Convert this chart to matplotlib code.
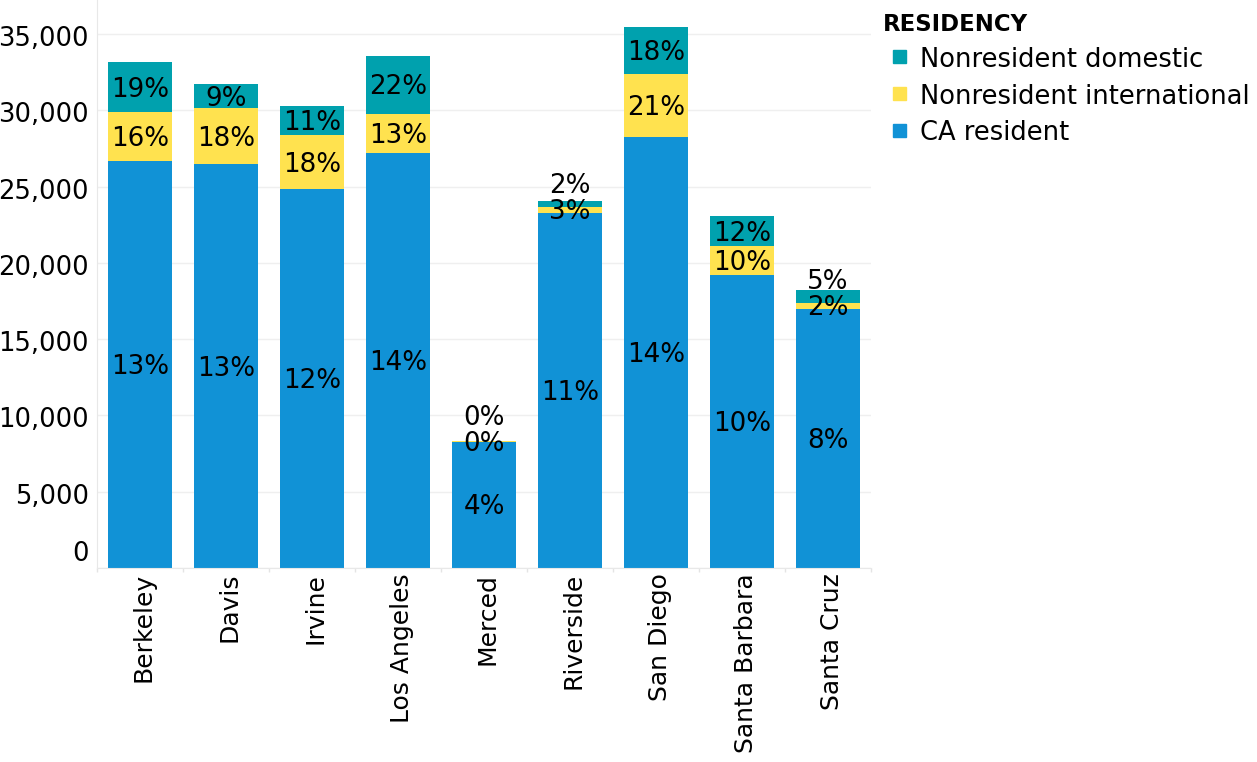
import matplotlib
matplotlib.use("Agg")
import matplotlib.pyplot as plt
from matplotlib.transforms import ScaledTranslation, blended_transform_factory
from matplotlib.patches import Rectangle
import numpy as np

plt.rcParams['font.family'] = ['DejaVu Sans']

campuses = ["Berkeley", "Davis", "Irvine", "Los Angeles", "Merced",
            "Riverside", "San Diego", "Santa Barbara", "Santa Cruz"]
ca_resident = [26670, 26470, 24840, 27200, 8270, 23280, 28240, 19200, 16990]
nonres_intl = [3210, 3670, 3540, 2560, 30, 390, 4130, 1900, 390]
nonres_dom = [3280, 1570, 1900, 3800, 30, 380, 3080, 1970, 840]
pct_ca = ["13%", "13%", "12%", "14%", "4%", "11%", "14%", "10%", "8%"]
pct_intl = ["16%", "18%", "18%", "13%", "0%", "3%", "21%", "10%", "2%"]
pct_dom = ["19%", "9%", "11%", "22%", "0%", "2%", "18%", "12%", "5%"]
series_names = ["Nonresident domestic", "Nonresident international", "CA resident"]
yticks = [0, 5000, 10000, 15000, 20000, 25000, 30000, 35000]

C_BLUE = "#1192d6"
C_YEL = "#ffe24f"
C_TEAL = "#00a1ae"

W, H = 1257, 762
fig = plt.figure(figsize=(W / 100, H / 100), dpi=100)
ax = fig.add_axes([97 / W, (H - 568) / H, (871 - 97) / W, 568 / H])
ax.set_xlim(-0.5, len(campuses) - 0.5)
ax.set_ylim(0, 37230)

x = np.arange(len(campuses))
ca = np.array(ca_resident, float)
it = np.array(nonres_intl, float)
do = np.array(nonres_dom, float)
bw = 0.755
ax.bar(x, ca, bw, color=C_BLUE, zorder=2)
ax.bar(x, it, bw, bottom=ca, color=C_YEL, zorder=2)
ax.bar(x, do, bw, bottom=ca + it, color=C_TEAL, zorder=2)

# grid & spines
ax.set_yticks(yticks)
ax.yaxis.grid(True, color="#efefef", linewidth=1, zorder=0)
ax.set_axisbelow(True)
ax.tick_params(axis='y', length=0, labelleft=False)
ax.set_xticks(x)
ax.tick_params(axis='x', which='major', length=0, labelbottom=False)
ax.set_xticks(np.arange(len(campuses) + 1) - 0.5, minor=True)
ax.tick_params(axis='x', which='minor', length=3, color="#e4e4e4", width=1)
for s in ["top", "right"]:
    ax.spines[s].set_visible(False)
ax.spines["left"].set_color("#e8e8e8")
ax.spines["bottom"].set_color("#e8e8e8")

# y tick labels
fs_tick = 18.6
ylab_tr = blended_transform_factory(ax.transAxes, ax.transData)
for v in yticks:
    dy = -12 if v != 0 else 7
    tr = ylab_tr + ScaledTranslation(-8 / 100, dy / 100, fig.dpi_scale_trans)
    ax.text(0, v, f"{v:,}", transform=tr, ha="right", va="baseline",
            fontsize=fs_tick, color="black", clip_on=False)

# category labels
xlab_tr = blended_transform_factory(ax.transData, ax.transAxes)
for i, name in enumerate(campuses):
    tr = xlab_tr + ScaledTranslation(10.8 / 100, -5 / 100, fig.dpi_scale_trans)
    ax.text(i, 0, name, transform=tr, rotation=90, rotation_mode="anchor",
            ha="right", va="baseline", fontsize=18, color="black", clip_on=False)

# percent labels
fs_pct = 18.8
units_per_px = (37230) / 568.0
gap = 26 * units_per_px
cap_off = -0.729 * fs_pct / 2 / 72
for i in range(len(campuses)):
    prev = -1e9
    bottoms = [0, ca[i], ca[i] + it[i]]
    heights = [ca[i], it[i], do[i]]
    labels = [pct_ca[i], pct_intl[i], pct_dom[i]]
    for b, h, lab in zip(bottoms, heights, labels):
        y = b + h / 2
        if y < prev + gap:
            y = prev + gap
        prev = y
        tr = ax.transData + ScaledTranslation(0, cap_off, fig.dpi_scale_trans)
        ax.text(i, y, lab, transform=tr, ha="center", va="baseline",
                fontsize=fs_pct, color="black", zorder=3, clip_on=False)

# legend
def fx(px):
    return px / W

def fy(py):
    return 1 - py / H

fig.text(fx(883), fy(30.7), "RESIDENCY", fontsize=16.4, fontweight="bold",
         ha="left", va="baseline")
leg_cols = [C_TEAL, C_YEL, C_BLUE]
sq_centers = [56.7, 93.7, 130.3]
baselines = [66.6, 104.0, 140.2]
for name, col, cy, bl in zip(series_names, leg_cols, sq_centers, baselines):
    fig.patches.append(Rectangle((fx(893), fy(cy + 6.3)), 12.5 / W, 12.5 / H,
                                 transform=fig.transFigure, color=col))
    fig.text(fx(920), fy(bl), name, fontsize=18.5, ha="left", va="baseline")

fig.savefig("out.png", dpi=100)
